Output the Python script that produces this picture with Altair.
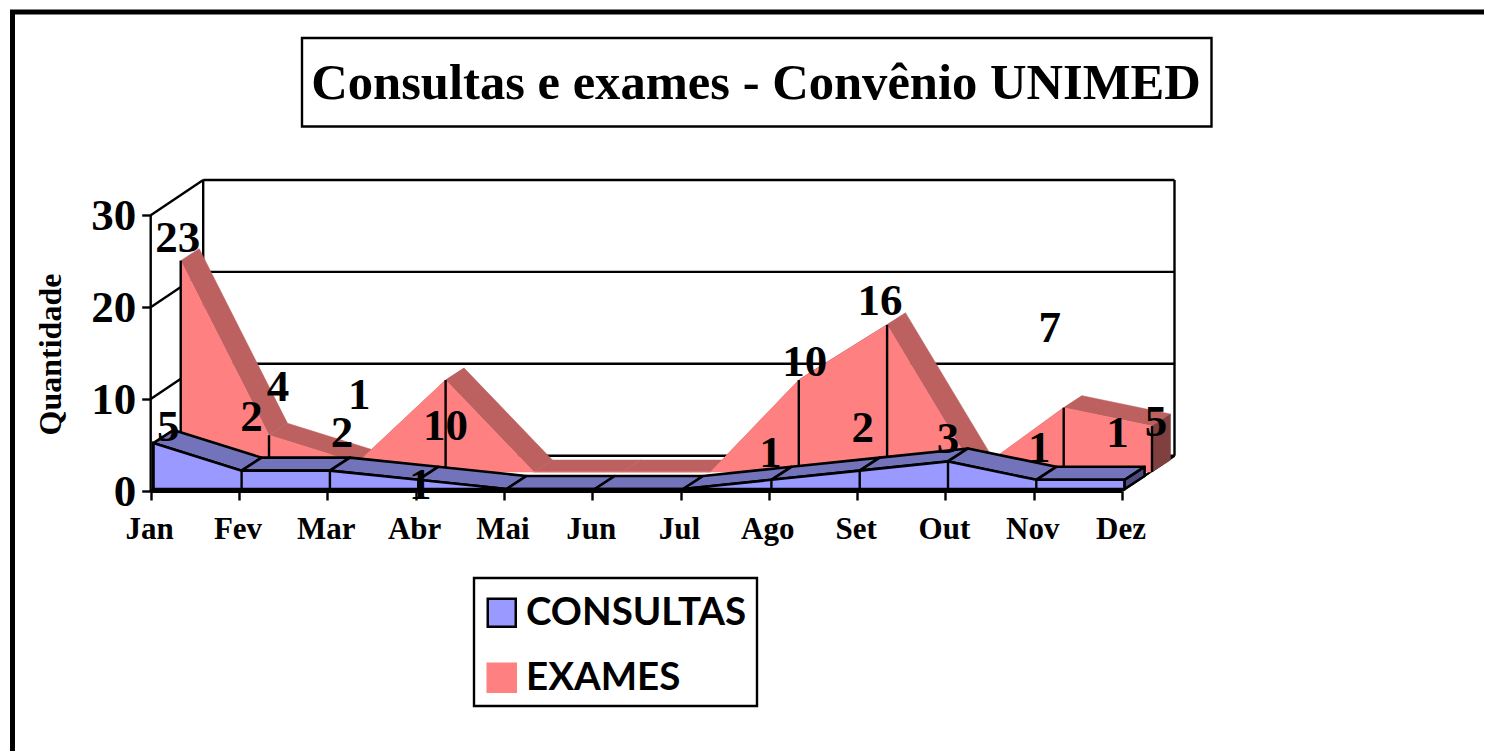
import altair as alt
import pandas as pd

MONTHS = ["Jan", "Fev", "Mar", "Abr", "Mai", "Jun", "Jul", "Ago", "Set", "Out", "Nov", "Dez"]
CONSULTAS = [5, 2, 2, 1, 0, 0, 0, 1, 2, 3, 1, 1]
EXAMES = [23, 4, 1, 10, 0, 0, 0, 10, 16, 0, 7, 5]

# label nudges in px (dx, dy) from each data point; None = no label
C_NUDGE = [(15, -16), (10, -54), (12, -38), (2, 5), None, None, None, (-1, -27), (3, -43), (0, -22), (3, -32), (-7, -47)]
E_NUDGE = [(-3, -23), (9, -48), (2, -68), (0, 46), None, None, None, (6, -18), (-7, -24), None, (-14, -80), (4, -4)]

W, H = 1476, 743
PX_M, PX_V = 88.3, 9.19          # px per month, px per unit
X0, Y0 = 142.7, 483.0            # chart px of month 0 / value 0


def mx(px):
    return px / PX_M


def vy(px):
    return px / PX_V


xs = alt.Scale(domain=[-X0 / PX_M, (W - X0) / PX_M], nice=False, zero=False)
ys = alt.Scale(domain=[(Y0 - H) / PX_V, Y0 / PX_V], nice=False, zero=False)
SERIF = "Liberation Serif"

axis_x = alt.Axis(
    values=list(range(12)),
    labelExpr="['Jan','Fev','Mar','Abr','Mai','Jun','Jul','Ago','Set','Out','Nov','Dez'][datum.value]",
    domain=False, grid=False, offset=-(H - Y0), tickSize=9, tickWidth=2.4, tickColor="black",
    labelFont=SERIF, labelFontWeight="bold", labelFontSize=31, labelColor="black",
    labelPadding=14, labelAngle=0, labelOffset=-1.5, title=None, labelOverlap=False,
)
axis_y = alt.Axis(
    values=[0, 10, 20, 30], domain=False, grid=False, offset=-X0, tickSize=9, tickWidth=2.4,
    tickColor="black", labelFont=SERIF, labelFontWeight="bold", labelFontSize=45, labelColor="black",
    labelPadding=6, title="Quantidade", titleFont=SERIF, titleFontWeight="bold", titleFontSize=32,
    titleColor="black", titleX=-100, titleY=346, titleAngle=270, titleAlign="center", titleBaseline="middle",
)
X = alt.X("m:Q", scale=xs, axis=axis_x)
Y = alt.Y("v:Q", scale=ys, axis=axis_y)

# ---- wall / floor lines ----
WALL_DX, WALL_DY = mx(52.5), vy(35.3)
last = len(MONTHS) - 1
segs = []
for t in [0, 10, 20, 30]:
    segs.append([(0, t), (WALL_DX, t + WALL_DY)])
    segs.append([(WALL_DX, t + WALL_DY), (last + WALL_DX, t + WALL_DY)])
segs.append([(0, 0), (0, 30)])
segs.append([(WALL_DX, WALL_DY), (WALL_DX, 30 + WALL_DY)])
segs.append([(last + WALL_DX, WALL_DY), (last + WALL_DX, 30 + WALL_DY)])
segs.append([(0, 0), (last, 0)])
segs.append([(last, 0), (last + WALL_DX, WALL_DY)])
wall = pd.DataFrame(
    [{"m": p[0], "v": p[1], "id": i, "o": j} for i, s in enumerate(segs) for j, p in enumerate(s)]
)


def faces(values, ox, oy, ddx, ddy):
    rows, pid = [], 0
    for i in range(len(values) - 1):
        a = (i + ox, values[i] + oy)
        b = (i + 1 + ox, values[i + 1] + oy)
        c = (b[0] + ddx, b[1] + ddy)
        d = (a[0] + ddx, a[1] + ddy)
        for j, p in enumerate([a, b, c, d, a]):
            rows.append({"m": p[0], "v": p[1], "id": pid, "o": j})
        pid += 1
    return pd.DataFrame(rows)


def side(values, ox, oy, ddx, ddy):
    i = len(values) - 1
    a = (i + ox, values[i] + oy)
    b = (i + ox, oy)
    c = (b[0] + ddx, b[1] + ddy)
    d = (a[0] + ddx, a[1] + ddy)
    return pd.DataFrame([{"m": p[0], "v": p[1], "id": 0, "o": j} for j, p in enumerate([a, b, c, d, a])])


# ---- series planes ----
C_OX, C_OY = mx(2.6), vy(2.0)
E_OX, E_OY = mx(30), vy(19)
C_DX, C_DY = mx(20), vy(13)
E_DX, E_DY = mx(18.5), vy(12)

c_front = pd.DataFrame({
    "m": [i + C_OX for i in range(12)], "v": [x + C_OY for x in CONSULTAS], "b": [C_OY] * 12, "serie": ["CONSULTAS"] * 12,
})
e_front = pd.DataFrame({
    "m": [i + E_OX for i in range(12)], "v": [x + E_OY for x in EXAMES], "b": [E_OY] * 12, "serie": ["EXAMES"] * 12,
})

legend = alt.Legend(
    orient="none", legendX=474.5, legendY=585.5, title=None,
    symbolType="square", symbolSize=784, symbolStrokeWidth=2.5, labelFont="Lato", labelFontWeight="bold",
    labelFontSize=38.5, labelColor="black", labelOffset=5, rowPadding=26, padding=0, labelLimit=400,
)
fill_sc = alt.Scale(domain=["CONSULTAS", "EXAMES"], range=["#9999FF", "#FF8080"])
stroke_sc = alt.Scale(domain=["CONSULTAS", "EXAMES"], range=["black", "#FF8080"])


def poly(df, fill, stroke, sw):
    return alt.Chart(df).mark_line(fill=fill, stroke=stroke, strokeWidth=sw, strokeJoin="round").encode(
        x=X, y=Y, detail="id:N", order="o:Q"
    )


def front(df, sw):
    return alt.Chart(df).mark_area(strokeWidth=sw, line=False).encode(
        x=X, y=Y, y2=alt.Y2("b:Q"),
        fill=alt.Fill("serie:N", scale=fill_sc, legend=legend),
        stroke=alt.Stroke("serie:N", scale=stroke_sc, legend=legend),
    )


def drops(df):
    return alt.Chart(df).mark_rule(color="black", strokeWidth=2.4).encode(x=X, y=Y, y2=alt.Y2("b:Q"))


lines = alt.Chart(wall).mark_line(color="black", strokeWidth=2.4).encode(x=X, y=Y, detail="id:N", order="o:Q")
base_line = alt.Chart(pd.DataFrame({"m": [0, last], "v": [0, 0], "o": [0, 1]})).mark_line(
    color="black", strokeWidth=4).encode(x=X, y=Y, order="o:Q")

# ---- data labels ----
lab = []
for name, vals, nudges, ox, oy in [("c", CONSULTAS, C_NUDGE, C_OX, C_OY), ("e", EXAMES, E_NUDGE, E_OX, E_OY)]:
    for i, (val, n) in enumerate(zip(vals, nudges)):
        if n is None:
            continue
        lab.append({"m": i + ox + mx(n[0]), "v": val + oy - vy(n[1]), "t": str(val)})
labels = alt.Chart(pd.DataFrame(lab)).mark_text(
    font=SERIF, fontWeight="bold", fontSize=45, color="black", baseline="middle", align="center"
).encode(x=X, y=Y, text="t:N")

# ---- decorations: page frame, title box, legend box ----
one = alt.Data(values=[{"a": 1}])
frame_top = alt.Chart(one).mark_rule(color="black", strokeWidth=5).encode(
    x=alt.value(2), x2=alt.value(W), y=alt.value(4))
frame_left = alt.Chart(one).mark_rule(color="black", strokeWidth=5).encode(
    x=alt.value(4.5), y=alt.value(2), y2=alt.value(H))
title_box = alt.Chart(one).mark_rect(fill="white", stroke="black", strokeWidth=2.4).encode(
    x=alt.value(294), x2=alt.value(1203.5), y=alt.value(30), y2=alt.value(118.5))
legend_box = alt.Chart(one).mark_rect(fill="white", stroke="black", strokeWidth=2.4).encode(
    x=alt.value(466), x2=alt.value(749), y=alt.value(570), y2=alt.value(698))

chart = alt.layer(
    frame_top, frame_left, title_box, legend_box,
    lines,
    poly(faces(EXAMES, E_OX, E_OY, E_DX, E_DY), "#BC6060", "#BC6060", 0.5),
    poly(side(EXAMES, E_OX, E_OY, E_DX, E_DY), "#804040", "#804040", 0.5),
    front(e_front, 0.5),
    drops(e_front),
    poly(faces(CONSULTAS, C_OX, C_OY, C_DX, C_DY), "#7373BB", "black", 2.6),
    poly(side(CONSULTAS, C_OX, C_OY, C_DX, C_DY), "#4C4C80", "black", 2.6),
    base_line,
    front(c_front, 2.6),
    drops(c_front),
    labels,
).resolve_scale(fill="shared", stroke="shared").properties(
    width=W, height=H, padding=0, autosize=alt.AutoSizeParams(type="none"),
    title=alt.TitleParams(
        "Consultas e exames - Convênio UNIMED", font=SERIF, fontWeight="bold", fontSize=50.6,
        color="black", anchor="middle", frame="group", dx=10, dy=142, offset=0, baseline="alphabetic",
    ),
).configure_view(stroke=None)

chart.save("out.html", embed_options={"renderer": "svg", "actions": False})
